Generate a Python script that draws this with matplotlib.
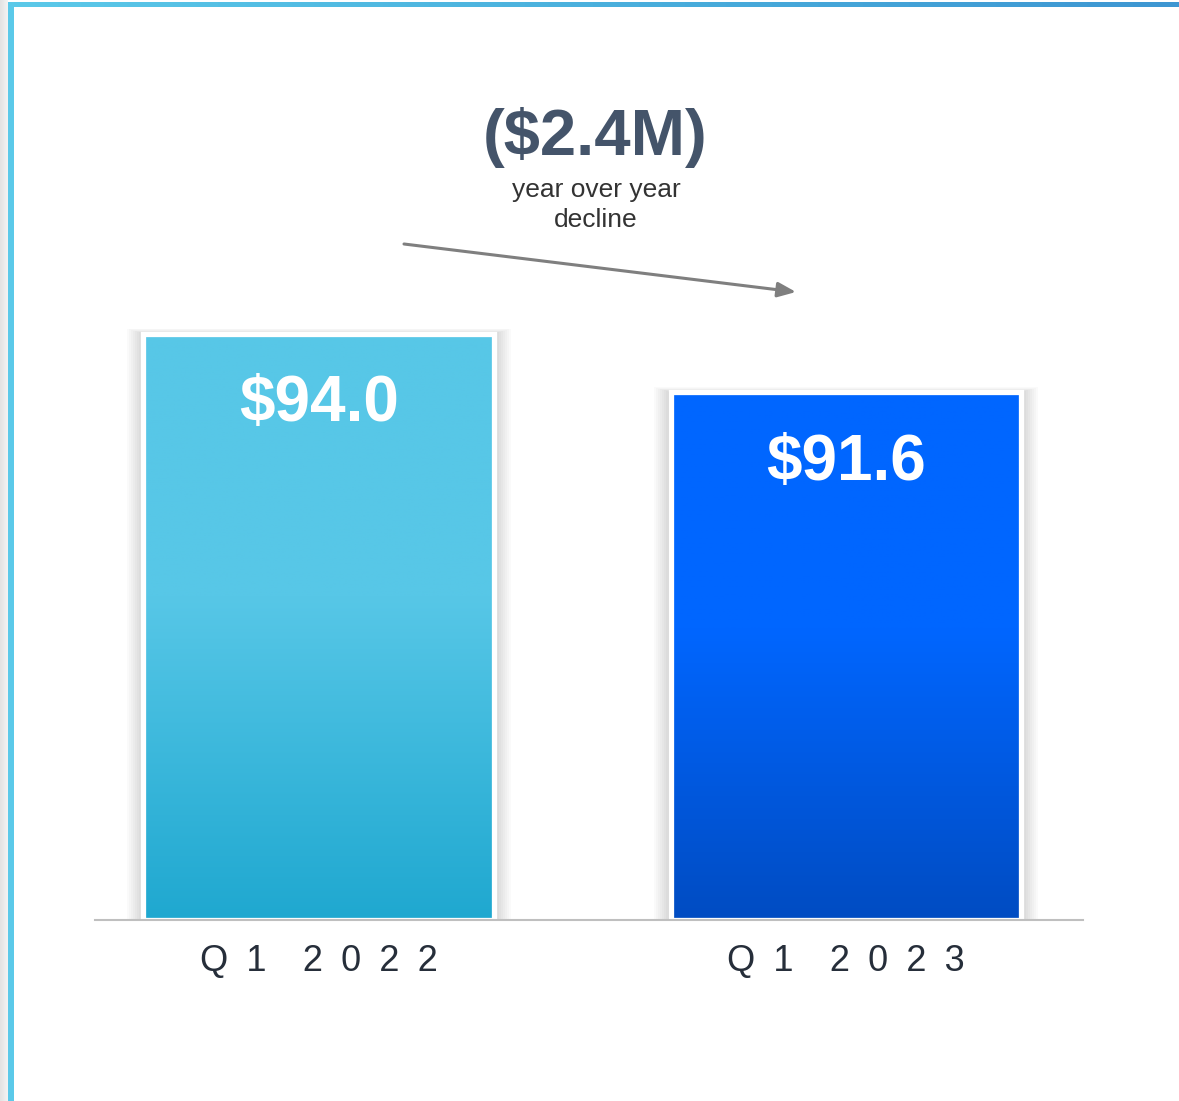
import numpy as np
import matplotlib.pyplot as plt
from matplotlib.colors import LinearSegmentedColormap
from matplotlib.patches import Rectangle

plt.rcParams['font.family'] = ['Liberation Sans', 'DejaVu Sans']

# data
sp = '\u2002'
categories = ['Q' + sp + '1' + sp * 2 + sp.join('2022'), 'Q' + sp + '1' + sp * 2 + sp.join('2023')]
values = [94.0, 91.6]
value_labels = ['$94.0', '$91.6']
change_label = '($2.4M)'
change_note = 'year over year\ndecline'
bar_colors = [('#57C7E7', '#1FA8D0'), ('#0066FF', '#004CC2')]

W, H = 1179, 1101
fig = plt.figure(figsize=(W / 100, H / 100), dpi=100)

def fx(x):
    return x / W

def fy(y):
    return 1 - y / H

# frame decoration (top and left border)
bg = fig.add_axes([0, 0, 1, 1], zorder=-5)
bg.axis('off')
grad = np.linspace(0, 1, 256).reshape(1, -1)
bg.imshow(grad, extent=(0, 8, H, 0), aspect='auto',
          cmap=LinearSegmentedColormap.from_list('g', ['#e2e2e2', '#f4f4f4']))
top_cmap = LinearSegmentedColormap.from_list('t', ['#5BC9E9', '#4AB0DD', '#3D96D2'])
bg.imshow(grad, extent=(8, W, 7, 2), aspect='auto', cmap=top_cmap)
bg.add_patch(Rectangle((8, 2), 6, H, color='#5BC9E9', lw=0))
bg.set_xlim(0, W)
bg.set_ylim(H, 0)

# chart axes
ymin = 70
px_per_unit = 586.5 / (values[0] - ymin)
ax = fig.add_axes([fx(95), fy(920), fx(1083) - fx(95), fy(50) - fy(920)])
x = np.arange(len(values))
width = 0.666

for i, v in enumerate(values):
    # soft shadow
    for k in range(8):
        pad = 0.004 * (k + 1)
        ax.add_patch(Rectangle((x[i] - width / 2 - pad, ymin), width + 2 * pad,
                               v - ymin + pad * 6, color='#000000', alpha=0.018, lw=0, zorder=1))
    top_c, bot_c = bar_colors[i]
    cm = LinearSegmentedColormap.from_list('b%d' % i, [(0, bot_c), (0.55, top_c), (1, top_c)])
    ax.imshow(np.linspace(0, 1, 256).reshape(-1, 1), extent=(x[i] - width / 2, x[i] + width / 2, ymin, v),
              origin='lower', aspect='auto', cmap=cm, zorder=2)
    ax.bar(x[i], v - ymin, bottom=ymin, width=width, color='none', edgecolor='white', lw=3.8, zorder=3)
    ax.text(x[i], v - 2.9, value_labels[i], ha='center', va='center', color='white',
            fontsize=46, fontweight='bold', zorder=4)

ax.set_xlim(-0.425, 1.4497)
ax.set_ylim(ymin, ymin + 870 / px_per_unit)
ax.set_xticks(x)
ax.set_xticklabels(categories, fontsize=26, color='#262E3A')
ax.tick_params(axis='x', length=0, pad=17)
ax.set_yticks([])
for s in ['top', 'left', 'right']:
    ax.spines[s].set_visible(False)
ax.spines['bottom'].set_color('#BFBFBF')
ax.spines['bottom'].set_linewidth(1.5)
ax.spines['bottom'].set_zorder(5)
ax.patch.set_alpha(0)

# annotation
fig.text(fx(595), fy(137), change_label, ha='center', va='center', fontsize=47,
         fontweight='bold', color='#44546A')
fig.text(fx(596), fy(205), change_note, ha='center', va='center', fontsize=19,
         color='#333333', linespacing=1.35)
ax.annotate('', xy=(fx(796), fy(292)), xytext=(fx(404), fy(244)),
            xycoords='figure fraction', textcoords='figure fraction',
            arrowprops=dict(arrowstyle='-|>,head_length=1.1,head_width=0.45',
                            color='#7F7F7F', lw=2.2, shrinkA=0, shrinkB=0))

fig.savefig('out.png', dpi=100)
